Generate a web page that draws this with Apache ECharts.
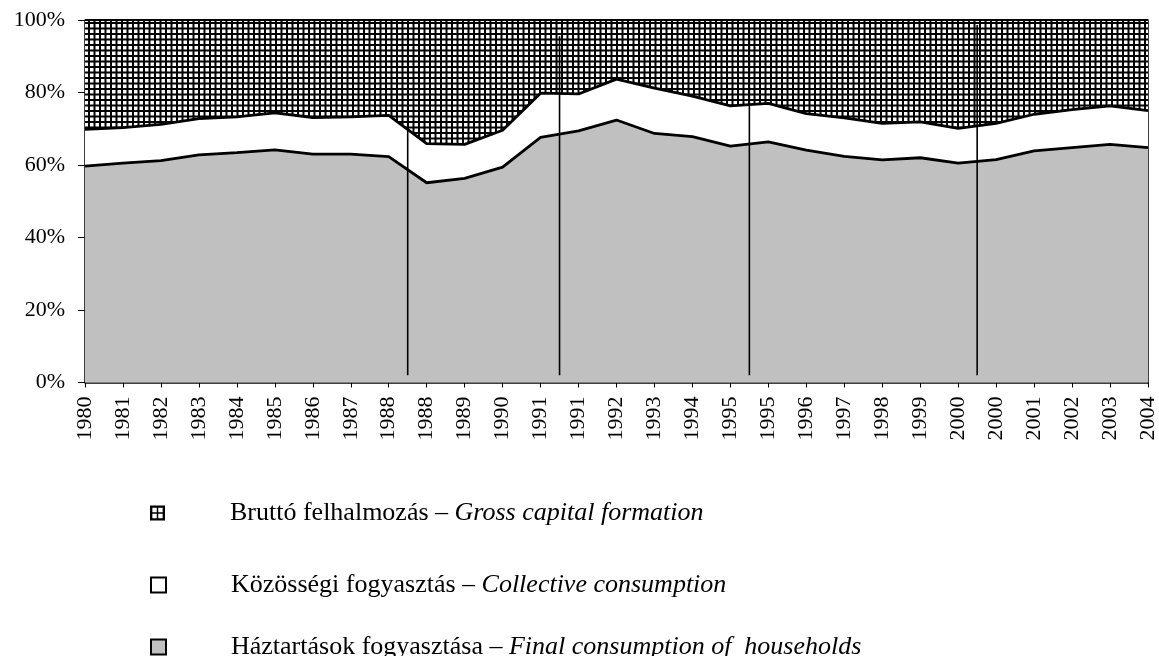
<!DOCTYPE html>
<html>
<head>
<meta charset="utf-8">
<script src="https://cdn.jsdelivr.net/npm/echarts@6/dist/echarts.min.js"></script>
<style>
html,body{margin:0;padding:0;background:#fff;}
#chart{width:1159px;height:656px;}
</style>
</head>
<body>
<div id="chart"></div>
<script>
// ---- data ----
const categories = ['1980','1981','1982','1983','1984','1985','1986','1987','1988','1988','1989','1990','1991','1991','1992','1993','1994','1995','1995','1996','1997','1998','1999','2000','2000','2001','2002','2003','2004'];
const households = [59.7,60.5,61.2,62.8,63.4,64.2,63.0,63.0,62.3,55.1,56.3,59.4,67.6,69.4,72.4,68.7,67.8,65.2,66.4,64.1,62.4,61.4,62.0,60.5,61.5,63.9,64.8,65.7,64.8];
const collective = [10.1,9.8,10.0,10.0,9.9,10.2,10.1,10.3,11.4,10.8,9.4,10.2,12.2,10.2,11.3,12.5,11.2,11.1,10.6,10.1,10.6,10.1,9.9,9.6,10.0,10.1,10.5,10.6,10.2];
const gross = [30.2,29.7,28.8,27.2,26.7,25.6,26.9,26.7,26.3,34.1,34.3,30.4,20.2,20.4,16.3,18.8,21.0,23.7,23.0,25.8,27.0,28.5,28.1,29.9,28.5,26.0,24.7,23.7,25.0];
const seriesNames = [
  'Háztartások fogyasztása – Final consumption of  households',
  'Közösségi fogyasztás – Collective consumption',
  'Bruttó felhalmozás – Gross capital formation'
];
const yTicks = [0, 20, 40, 60, 80, 100];
const separatorTops = [95.5, 95.5, 95.5, 98.6];
const separatorBottom = 2;

// ---- pattern for gross capital formation ----
const pc = document.createElement('canvas');
pc.width = 11; pc.height = 11;
const g = pc.getContext('2d');
g.fillStyle = '#fff'; g.fillRect(0, 0, 11, 11);
g.fillStyle = '#000';
g.fillRect(0, 0, 11, 2); g.fillRect(0, 5.5, 11, 2);
g.fillRect(0, 0, 2, 11); g.fillRect(5.5, 0, 2, 11);

// separator positions: between duplicated category labels
const sepPos = [];
for (let i = 0; i < categories.length - 1; i++) {
  if (categories[i] === categories[i + 1]) sepPos.push(i + 0.5);
}

const FONT = '"Liberation Serif", "Times New Roman", serif';
const gridIcon = 'path://M0 0H14V14H0Z M2.2 2.2V6.3H6.3V2.2Z M7.7 2.2V6.3H11.8V2.2Z M2.2 7.7V11.8H6.3V7.7Z M7.7 7.7V11.8H11.8V7.7Z';

const legendTextStyle = {
  color: '#000', fontFamily: FONT, fontSize: 26, lineHeight: 20,
  rich: {
    s: {width: 60, fontSize: 26, fontFamily: FONT, lineHeight: 20},
    n: {fontSize: 26, fontFamily: FONT, color: '#000', lineHeight: 20},
    i: {fontSize: 26, fontFamily: FONT, fontStyle: 'italic', color: '#000', lineHeight: 20}
  }
};
function legendFormatter(name) {
  const parts = name.split(' – ');
  return '{s|\u00a0}{n|' + parts[0] + ' – }{i|' + parts[1] + '}';
}
const legendRows = [
  {name: seriesNames[2], center: 510, icon: gridIcon, itemStyle: {color: '#000', borderWidth: 0}},
  {name: seriesNames[1], center: 582, icon: 'rect', itemStyle: {color: '#fff', borderColor: '#000', borderWidth: 2}},
  {name: seriesNames[0], center: 644, icon: 'rect', itemStyle: {color: '#c0c0c0', borderColor: '#000', borderWidth: 2}}
];
const legends = legendRows.map(r => ({
  orient: 'vertical',
  left: 150,
  top: r.center - 10,
  padding: 0,
  itemWidth: 15,
  itemHeight: 15,
  selectedMode: false,
  data: [{name: r.name, icon: r.icon, itemStyle: r.itemStyle}],
  formatter: legendFormatter,
  textStyle: legendTextStyle
}));

const chart = echarts.init(document.getElementById('chart'), null, {renderer: 'canvas'});

const sepSeries = sepPos.map((p, k) => ({
  type: 'line',
  xAxisIndex: 1,
  yAxisIndex: 0,
  symbol: 'none',
  silent: true,
  z: 10,
  lineStyle: {color: '#000', width: 1.6},
  data: [[p, separatorBottom], [p, separatorTops[k]]]
}));

chart.setOption({
  animation: false,
  backgroundColor: '#fff',
  grid: {left: 85, right: 9, top: 20, bottom: 273.5, containLabel: false},
  xAxis: [{
    type: 'category',
    data: categories,
    boundaryGap: false,
    axisLine: {show: true, lineStyle: {color: '#000', width: 1.5}},
    axisTick: {show: true, alignWithLabel: true, length: 5, lineStyle: {color: '#000', width: 1}},
    axisLabel: {interval: 0, rotate: 90, margin: 14, color: '#000', fontFamily: FONT, fontSize: 22},
    splitLine: {show: false}
  }, {
    type: 'value', min: 0, max: categories.length - 1, show: false
  }],
  yAxis: [{
    type: 'value', min: yTicks[0], max: yTicks[yTicks.length - 1], interval: yTicks[1] - yTicks[0],
    axisLine: {show: true, lineStyle: {color: '#000', width: 1.5}},
    axisTick: {show: true, length: 7, lineStyle: {color: '#000', width: 1}},
    axisLabel: {formatter: '{value}%', margin: 20, color: '#000', fontFamily: FONT, fontSize: 22},
    splitLine: {show: false}
  }, {
    type: 'value', min: 0, max: 100, position: 'right',
    axisLine: {show: true, lineStyle: {color: '#000', width: 1.5}},
    axisTick: {show: false}, axisLabel: {show: false}, splitLine: {show: false}
  }],
  legend: legends,
  series: [{
    name: seriesNames[0],
    type: 'line', stack: 'total', symbol: 'none', silent: true,
    lineStyle: {color: '#000', width: 2.8},
    itemStyle: {color: '#c0c0c0'},
    areaStyle: {color: '#c0c0c0', opacity: 1},
    z: 3,
    data: households
  }, {
    name: seriesNames[1],
    type: 'line', stack: 'total', symbol: 'none', silent: true,
    lineStyle: {color: '#000', width: 2.8},
    itemStyle: {color: '#fff'},
    areaStyle: {color: '#fff', opacity: 1},
    z: 3,
    data: collective
  }, {
    name: seriesNames[2],
    type: 'line', stack: 'total', symbol: 'none', silent: true,
    lineStyle: {color: '#000', width: 2},
    itemStyle: {color: '#000'},
    areaStyle: {color: {image: pc, repeat: 'repeat'}, opacity: 1},
    z: 2,
    data: gross
  }].concat(sepSeries)
});
</script>
</body>
</html>
